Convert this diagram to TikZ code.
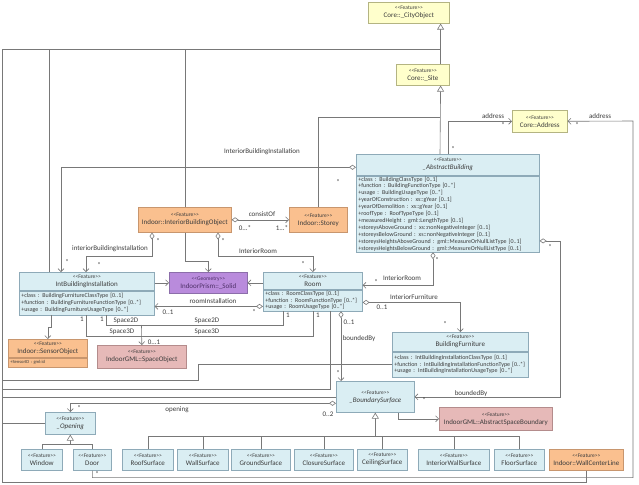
\documentclass[tikz,border=0pt]{standalone}
\usepackage{fontspec}
\setmainfont{Carlito}
\usetikzlibrary{arrows.meta,positioning,calc}

\definecolor{clsblue}{HTML}{DAEEF3}
\definecolor{clsblueline}{HTML}{8EAAB8}
\definecolor{coreyellow}{HTML}{FFFFCC}
\definecolor{coreyellowline}{HTML}{B4B482}
\definecolor{indoororange}{HTML}{FAC08F}
\definecolor{indoororangeline}{HTML}{C8966E}
\definecolor{gmlpink}{HTML}{E6B9B8}
\definecolor{gmlpinkline}{HTML}{B48C8C}
\definecolor{geompurple}{HTML}{B98BDC}
\definecolor{geompurpleline}{HTML}{8C6EAA}
\definecolor{geomtext}{HTML}{4E3068}
\definecolor{linegray}{HTML}{787878}
\definecolor{txtgray}{HTML}{3C3C3C}

\newcommand{\stereo}[1]{{\fontsize{5.5}{6}\selectfont<{}<#1>{}>}\\}
\newcommand{\clsname}{\fontsize{7}{8}\selectfont}
\newcommand{\attrfont}{\fontsize{6}{6.9}\selectfont}
\newcommand{\lblfont}{\fontsize{7}{8}\selectfont}

\begin{document}
\begin{tikzpicture}[x=1pt,y=-1pt,line width=0.6pt]
        \tikzstyle{cls} = [draw, rectangle, align=center, inner sep=1pt, text=txtgray, font=\clsname, anchor=north west]
        \tikzstyle{feat} = [cls, draw=clsblueline, fill=clsblue]
        \tikzstyle{core} = [cls, draw=coreyellowline, fill=coreyellow]
        \tikzstyle{indoor} = [cls, draw=indoororangeline, fill=indoororange]
        \tikzstyle{gmlcls} = [cls, draw=gmlpinkline, fill=gmlpink]
        \tikzstyle{geom} = [cls, draw=geompurpleline, fill=geompurple, text=geomtext]
        \tikzstyle{attrs} = [align=left, inner xsep=2pt, inner ysep=0.5pt, font=\attrfont]
        \tikzstyle{conn} = [draw=linegray, line width=0.6pt]
        \tikzstyle{gen} = [conn, -{Triangle[open, length=6pt, width=7pt, fill=white]}]
        \tikzstyle{assoc} = [conn, -{Straight Barb[length=3pt, width=6pt]}]
        \tikzstyle{aggr} = [conn, {Diamond[open, length=7pt, width=5pt, fill=white]}-{Straight Barb[length=3pt, width=6pt]}]
        \tikzstyle{lbl} = [font=\lblfont, text=txtgray, inner sep=0.5pt]

        \fill[white] (0,0) rectangle (639,484);
        \useasboundingbox (0,0) rectangle (639,484);

        % Nodes
        \node[core, minimum width=81pt, minimum height=21pt] (cityobj) at (368,2) {\stereo{Feature}Core::\_CityObject};
        \node[core, minimum width=53pt, minimum height=21pt] (site) at (396,64) {\stereo{Feature}Core::\_Site};
        \node[core, minimum width=55pt, minimum height=22pt] (address) at (512,110) {\stereo{Feature}Core::Address};

        \node[feat, minimum width=183pt, minimum height=21pt] (abHead) at (356,154) {\stereo{Feature}\textit{\_AbstractBuilding}};
        \node[feat, attrs, below=0pt of abHead, text width=179pt, minimum height=76pt] (abBody) {%
            +class : BuildingClassType [0..1]\\
            +function : BuildingFunctionType [0..*]\\
            +usage : BuildingUsageType [0..*]\\
            +yearOfConstruction : xs::gYear [0..1]\\
            +yearOfDemolition : xs::gYear [0..1]\\
            +roofType : RoofTypeType [0..1]\\
            +measuredHeight : gml::LengthType [0..1]\\
            +storeysAboveGround : xs::nonNegativeInteger [0..1]\\
            +storeysBelowGround : xs::nonNegativeInteger [0..1]\\
            +storeysHeightsAboveGround : gml::MeasureOrNullListType [0..1]\\
            +storeysHeightsBelowGround : gml::MeasureOrNullListType [0..1]};

        \node[indoor, minimum width=93pt, minimum height=25pt] (ibo) at (138,207) {\stereo{Feature}Indoor::InteriorBuildingObject};
        \node[indoor, minimum width=58pt, minimum height=25pt] (storey) at (289,207) {\stereo{Feature}Indoor::Storey};

        \node[feat, minimum width=135pt, minimum height=18pt] (ibiHead) at (19,272) {\stereo{Feature}IntBuildingInstallation};
        \node[feat, attrs, below=0pt of ibiHead, text width=131pt, minimum height=24pt] (ibiBody) {%
            +class : BuildingFurnitureClassType [0..1]\\
            +function : BuildingFurnitureFunctionType [0..*]\\
            +usage : BuildingFurnitureUsageType [0..*]};

        \node[geom, minimum width=78pt, minimum height=21pt] (solid) at (169,272) {\stereo{Geometry}IndoorPrism::\_Solid};

        \node[feat, minimum width=99pt, minimum height=17pt] (roomHead) at (263,272) {\stereo{Feature}Room};
        \node[feat, attrs, below=0pt of roomHead, text width=95pt, minimum height=21pt] (roomBody) {%
            +class : RoomClassType [0..1]\\
            +function : RoomFunctionType [0..*]\\
            +usage : RoomUsageType [0..*]};

        \node[feat, minimum width=136pt, minimum height=19pt] (bfHead) at (392,332) {\stereo{Feature}BuildingFurniture};
        \node[feat, attrs, below=0pt of bfHead, text width=132pt, minimum height=25pt] (bfBody) {%
            +class : IntBuildingInstallationClassType [0..1]\\
            +function : IntBuildingInstallationFunctionType [0..*]\\
            +usage : IntBuildingInstallationUsageType [0..*]};

        \node[indoor, minimum width=79pt, minimum height=18pt] (sensorHead) at (8,339) {\stereo{Feature}Indoor::SensorObject};
        \node[indoor, attrs, below=0pt of sensorHead, text width=75pt, minimum height=9pt, font=\fontsize{4.6}{5.2}\selectfont] (sensorBody) {+SensorID : gml:id};

        \node[gmlcls, minimum width=89pt, minimum height=23pt] (spaceobj) at (97,345) {\stereo{Feature}IndoorGML::SpaceObject};
        \node[feat, minimum width=78pt, minimum height=31pt] (bsurf) at (336,381) {\stereo{Feature}\textit{\_BoundarySurface}};
        \node[gmlcls, minimum width=113pt, minimum height=23pt] (asb) at (439,407) {\stereo{Feature}IndoorGML::AbstractSpaceBoundary};
        \node[feat, minimum width=50pt, minimum height=22pt] (opening) at (45,412) {\stereo{Feature}\textit{\_Opening}};

        \node[feat, minimum width=41pt, minimum height=21pt] (window) at (21,449) {\stereo{Feature}Window};
        \node[feat, minimum width=38pt, minimum height=21pt] (door) at (73,449) {\stereo{Feature}Door};
        \node[feat, minimum width=51pt, minimum height=21pt] (roof) at (122,449) {\stereo{Feature}RoofSurface};
        \node[feat, minimum width=51pt, minimum height=21pt] (wall) at (177,449) {\stereo{Feature}WallSurface};
        \node[feat, minimum width=59pt, minimum height=21pt] (ground) at (231,449) {\stereo{Feature}GroundSurface};
        \node[feat, minimum width=59pt, minimum height=21pt] (closure) at (294,449) {\stereo{Feature}ClosureSurface};
        \node[feat, minimum width=50pt, minimum height=21pt] (ceiling) at (357,449) {\stereo{Feature}CeilingSurface};
        \node[feat, minimum width=71pt, minimum height=21pt] (intwall) at (418,449) {\stereo{Feature}InteriorWallSurface};
        \node[feat, minimum width=50pt, minimum height=21pt] (floor) at (494,449) {\stereo{Feature}FloorSurface};
        \node[indoor, minimum width=74pt, minimum height=21pt] (wcl) at (549,449) {\stereo{Feature}Indoor::WallCenterLine};

        % Edges: generalisations towards Core
        \coordinate (topbus) at (440,49);
        \coordinate (sitebus) at (440,117);
        \coordinate (leftbus) at (2,49);
        \draw[gen] ([xshift=-9pt]site.north east) -- ([xshift=-9pt]cityobj.south east);
        \draw[gen] (abHead.north -| sitebus) -- ([xshift=-9pt]site.south east);
        \draw[conn] (storey.north) |- (sitebus);
        \draw[conn] (ibo.north) |- (topbus);
        \draw[conn] ([xshift=30pt]ibiHead.north west) |- (topbus);
        \draw[conn] (opening.west) -| (leftbus) -- (topbus);
        \draw[conn] (bfBody.west) -- ++(-194,0) -- ++(0,16) -| (leftbus);
        \draw[conn] ([xshift=67pt]roomBody.south west) -- ++(0,78) -| (leftbus);
        \draw[conn] (bsurf.west) -| (leftbus);
        \draw[conn] (wcl.south) -- ++(0,12) -| (leftbus);

        % Edges: associations
        \coordinate (rightbus) at (633,121);
        \draw[assoc] ([xshift=92pt]abHead.north west) |- (address.west);
        \draw[assoc] (door.south) -- ++(0,7) -| (rightbus) -- (address.east);
        \draw[aggr] (ibo.east) -- (storey.west);
        \draw[aggr] ([yshift=-2.5pt]abHead.west) -| ([xshift=42pt]ibiHead.north west);
        \draw[aggr] ([xshift=14pt]ibo.south west) -- ++(0,24) -| ([xshift=67pt]ibiHead.north west);
        \draw[aggr] ([xshift=80pt]ibo.south west) -- ++(0,24) -| (roomHead.north);
        \draw[assoc] (ibo.south) -- ++(0,29) -| (solid.north);
        \draw[assoc] (ibiHead.east |- solid.west) -- (solid.west);
        \draw[assoc] (roomHead.west |- solid.east) -- (solid.east);
        \draw[aggr] ([yshift=-6pt]roomBody.west) -- ([yshift=-6pt]roomBody.west -| ibiBody.east);
        \draw[aggr] ([xshift=77pt]abBody.south west) |- ([yshift=-4.5pt]roomHead.east);
        \draw[aggr] ([yshift=-27pt]abBody.east) -- ++(21,0) |- (bsurf.east);
        \draw[aggr] ([yshift=-2pt]roomBody.east) -| (bfHead.north);
        \draw[aggr] ([xshift=78pt]roomBody.south west) -- ([xshift=5pt]bsurf.north west);
        \draw[assoc] ([xshift=32pt]ibiBody.south west) -- ++(0,12) -| (sensorHead.north);
        \draw[assoc] ([xshift=62pt]bsurf.south west) |- (asb.west);
        \draw[aggr] ([yshift=-6.5pt]bsurf.west) -| (opening.north);

        % Space2D / Space3D onto the IndoorGML space
        \coordinate (s2d) at (141.5,325);
        \coordinate (s3d) at (141.5,336);
        \draw[conn] ([xshift=20pt]roomBody.south west) |- (s2d);
        \draw[conn] ([xshift=87pt]ibiBody.south west) |- (s2d);
        \draw[conn] ([xshift=50pt]roomBody.south west) |- (s3d);
        \draw[conn] ([xshift=67pt]ibiBody.south west) |- (s3d);
        \draw[assoc] (s2d) -- (spaceobj.north);

        % Edges: thematic surfaces and openings
        \coordinate (bsbus) at ([yshift=-24pt]bsurf.south);
        \draw[gen] (bsbus) -- (bsurf.south);
        \foreach \s in {roof,wall,ground,closure,ceiling,intwall,floor}
            \draw[conn] (\s.north) |- (bsbus);
        \coordinate (opbus) at ([yshift=-10pt]opening.south);
        \draw[gen] (opbus) -- (opening.south);
        \foreach \s in {window,door}
            \draw[conn] (\s.north) |- (opbus);

        % Role names and multiplicities
        \node[lbl] (addrL) at (493,116) {address};
        \node[lbl] (addrLm) at (503,125) {*};
        \node[lbl] (addrLab) at (453,149) {*};
        \node[lbl] (addrR) at (600,116) {address};
        \node[lbl] (addrRm) at (577,125) {*};
        \node[lbl] (doorAddrM) at (97,474) {*};
        \node[lbl] (ibiAbL) at (262,152) {InteriorBuildingInstallation};
        \node[lbl] (ibiAbM) at (338,182) {*};
        \node[lbl] (ibiAbM2) at (67,262) {*};
        \node[lbl] (consistL) at (262,214) {consistOf};
        \node[lbl] (consistA) at (245,228) {0...*};
        \node[lbl] (consistB) at (282,228) {1...*};
        \node[lbl] (iboIbiL) at (110,249) {interiorBuildingInstallation};
        \node[lbl] (iboIbiA) at (158,241) {*};
        \node[lbl] (iboIbiB) at (99,265) {*};
        \node[lbl] (iboRoomL) at (258,251) {InteriorRoom};
        \node[lbl] (iboRoomA) at (223,241) {*};
        \node[lbl] (iboRoomB) at (303,264) {*};
        \node[lbl] (roomInstL) at (213,301) {roomInstallation};
        \node[lbl] (roomInstA) at (168,312) {0..1};
        \node[lbl] (roomInstB) at (254,312) {*};
        \node[lbl] (abRoomL) at (402,278) {InteriorRoom};
        \node[lbl] (abRoomA) at (376,282) {*};
        \node[lbl] (abRoomB) at (437,260) {*};
        \node[lbl] (furnL) at (414,297) {InteriorFurniture};
        \node[lbl] (furnA) at (382,307) {0..1};
        \node[lbl] (furnB) at (445,324) {*};
        \node[lbl] (roomBsL) at (359,339) {boundedBy};
        \node[lbl] (roomBsA) at (349,322) {0..1};
        \node[lbl] (roomBsB) at (338,373) {*};
        \node[lbl] (abBsL) at (471,394) {boundedBy};
        \node[lbl] (abBsA) at (424,400) {*};
        \node[lbl] (abBsB) at (550,247) {*};
        \node[lbl] (s2dL) at (126,321) {Space2D};
        \node[lbl] (s2dR) at (207,321) {Space2D};
        \node[lbl] (s3dL) at (122,332) {Space3D};
        \node[lbl] (s3dR) at (207,332) {Space3D};
        \node[lbl] (ibiOneA) at (82,319) {1};
        \node[lbl] (ibiOneB) at (102,319) {1};
        \node[lbl] (roomOneA) at (288,315) {1};
        \node[lbl] (roomOneB) at (318,315) {1};
        \node[lbl] (spaceM) at (154,342) {0...1};
        \node[lbl] (openL) at (177,410) {opening};
        \node[lbl] (openA) at (79,408) {*};
        \node[lbl] (openB) at (328,414) {0..2};
    \end{tikzpicture}
\end{document}
